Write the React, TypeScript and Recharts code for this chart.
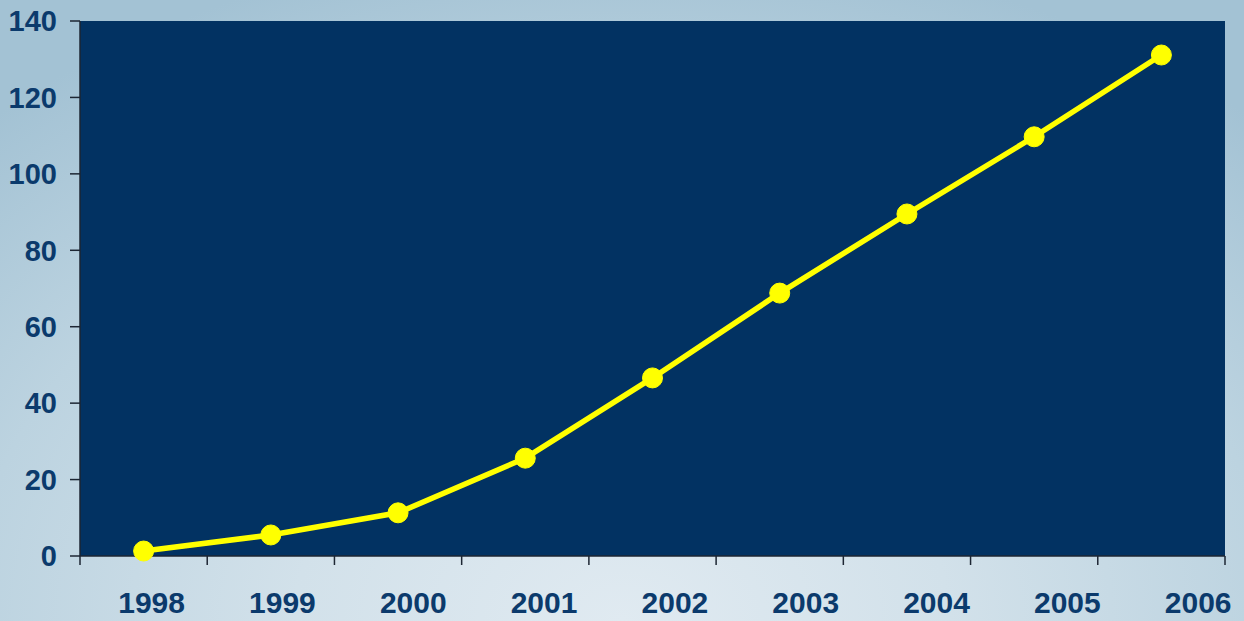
import { LineChart, Line, XAxis, YAxis, CartesianGrid } from "recharts";

const years = ["1998", "1999", "2000", "2001", "2002", "2003", "2004", "2005", "2006"];
const values = [1.3, 5.5, 11.3, 25.6, 46.6, 68.8, 89.5, 109.7, 131.1];
const yTicks = [0, 20, 40, 60, 80, 100, 120, 140];

const data = years.map((year, i) => ({ year, value: values[i] }));

const TEXT = "#0b3a6c";
const AXIS = "#1d2633";
const FONT = "'Liberation Sans', Arial, sans-serif";
const TICK_LEN = 9;
const TICK_GAP = 27;

function YearTick(props: any) {
  const { x, y, payload, index, visibleTicksCount } = props;
  const half = payload && payload.offset ? payload.offset : 63.6;
  const axisY = y - TICK_GAP - TICK_LEN;
  const last = index === (visibleTicksCount ?? years.length) - 1;
  return (
    <g>
      <line x1={x - half} x2={x - half} y1={axisY} y2={axisY + TICK_LEN} stroke={AXIS} strokeWidth={1.5} />
      {last && (
        <line x1={x + half} x2={x + half} y1={axisY} y2={axisY + TICK_LEN} stroke={AXIS} strokeWidth={1.5} />
      )}
      <text
        x={x + 8 + index * 3.6}
        y={y}
        dy="0.71em"
        textAnchor="middle"
        fill={TEXT}
        fontSize={30}
        fontWeight="bold"
        fontFamily={FONT}
      >
        {payload.value}
      </text>
    </g>
  );
}

export default function App() {
  return (
    <div
      style={{
        position: "absolute",
        left: 0,
        top: 0,
        width: 1244,
        height: 621,
        background:
          "radial-gradient(ellipse 75% 110% at 50% 100%, #e0eaf1 0%, #d2e1ea 35%, #bcd3e0 70%, #a3c2d4 100%)"
      }}
    >
      <LineChart width={1244} height={621} data={data} margin={{ top: 21, right: 19, bottom: 0, left: 0 }}>
        <CartesianGrid horizontal={false} vertical={false} fill="#023262" />
        <XAxis
          dataKey="year"
          scale="band"
          interval={0}
          height={65}
          tickLine={false}
          tickSize={TICK_LEN}
          tickMargin={TICK_GAP}
          axisLine={{ stroke: AXIS, strokeWidth: 1.5 }}
          tick={<YearTick />}
        />
        <YAxis
          width={80}
          domain={[0, 140]}
          ticks={yTicks}
          interval={0}
          tickSize={10}
          tickMargin={13}
          axisLine={{ stroke: AXIS, strokeWidth: 1.5 }}
          tickLine={{ stroke: AXIS, strokeWidth: 1.5 }}
          tick={{ fill: TEXT, fontSize: 29, fontWeight: "bold", fontFamily: FONT }}
        />
        <Line
          type="linear"
          dataKey="value"
          stroke="#ffff00"
          strokeWidth={5.5}
          dot={{ r: 10, fill: "#ffff00", stroke: "#ffff00", strokeWidth: 1 }}
          activeDot={false}
          isAnimationActive={false}
        />
      </LineChart>
    </div>
  );
}
